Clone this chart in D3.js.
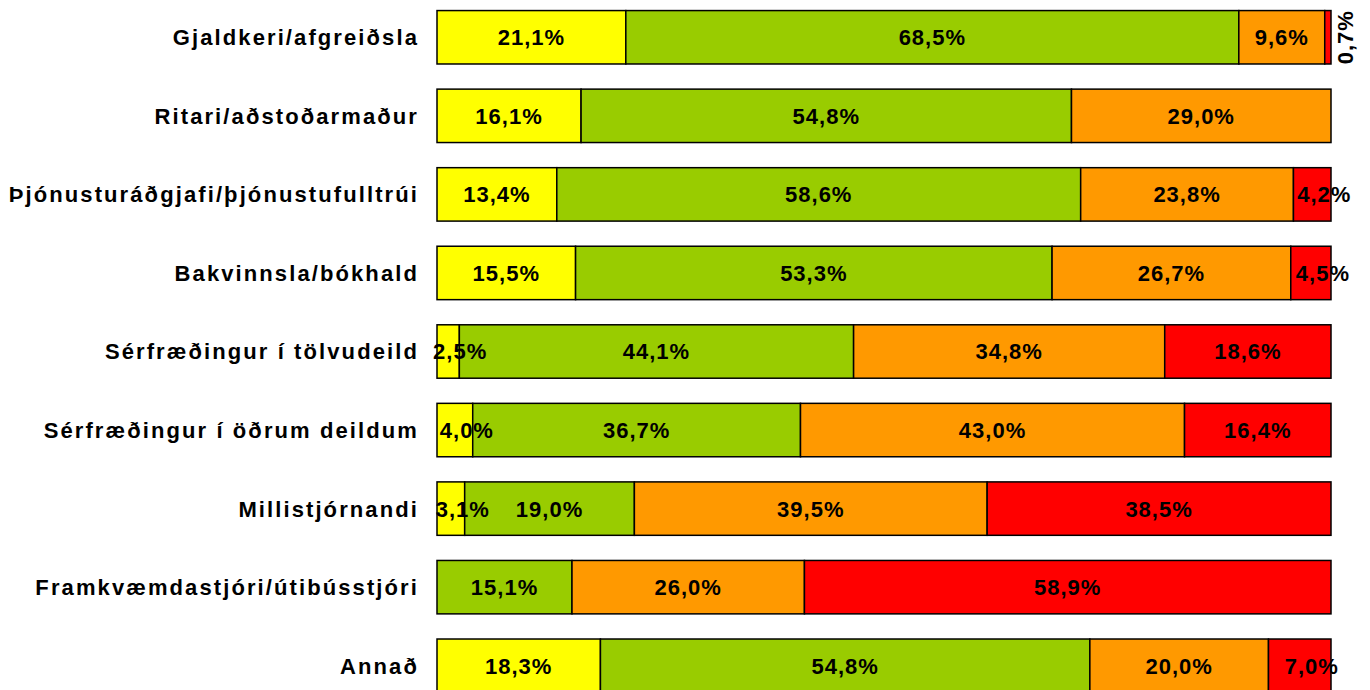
<!DOCTYPE html>
<html>
<head>
<meta charset="utf-8">
<script src="https://cdn.jsdelivr.net/npm/d3@7"></script>
<style>
  body { margin: 0; background: #fff; }
  svg { display: block; font-family: "Liberation Sans", Arial, sans-serif; font-weight: bold; }
</style>
</head>
<body>
<svg width="1370" height="690"></svg>
<script>
// starfsheiti - hlutfall eftir flokkum
const categories = [
  "Gjaldkeri/afgreiðsla",
  "Ritari/aðstoðarmaður",
  "Þjónusturáðgjafi/þjónustufulltrúi",
  "Bakvinnsla/bókhald",
  "Sérfræðingur í tölvudeild",
  "Sérfræðingur í öðrum deildum",
  "Millistjórnandi",
  "Framkvæmdastjóri/útibússtjóri",
  "Annað"
];
const yellowVals = [21.1, 16.1, 13.4, 15.5, 2.5, 4.0, 3.1, 0, 18.3];
const greenVals  = [68.5, 54.8, 58.6, 53.3, 44.1, 36.7, 19.0, 15.1, 54.8];
const orangeVals = [9.6, 29.0, 23.8, 26.7, 34.8, 43.0, 39.5, 26.0, 20.0];
const redVals    = [0.7, 0, 4.2, 4.5, 18.6, 16.4, 38.5, 58.9, 7.0];
const seriesColors = ["#FFFF00", "#99CC00", "#FF9900", "#FF0000"];

const allSeries = [yellowVals, greenVals, orangeVals, redVals];

const svg = d3.select("svg");

const x = d3.scaleLinear().domain([0, 100]).range([437, 1331]);
const y = d3.scaleBand().domain(categories).range([-2, 705])
  .paddingInner(0.32).paddingOuter(0.16);

// byggja stafla (normalized to 100%)
const rows = categories.map((cat, i) => {
  const vals = allSeries.map(s => s[i]);
  const total = d3.sum(vals);
  let acc = 0;
  return vals.map((v, k) => {
    const x0 = acc / total * 100;
    acc += v;
    return { cat: cat, k: k, v: v, x0: x0, x1: acc / total * 100 };
  }).filter(d => d.v > 0);
});

const segs = rows.flat();

svg.append("g").selectAll("rect")
  .data(segs)
  .enter()
  .append("rect")
  .attr("x", d => x(d.x0))
  .attr("y", d => y(d.cat))
  .attr("width", d => x(d.x1) - x(d.x0))
  .attr("height", y.bandwidth())
  .attr("fill", d => seriesColors[d.k])
  .attr("stroke", "#000")
  .attr("stroke-width", 1.5);

const fmt = v => v.toFixed(1).replace(".", ",") + "%";

svg.append("g").selectAll("text")
  .data(segs)
  .enter()
  .append("text")
  .attr("transform", d => {
    const w = x(d.x1) - x(d.x0);
    let cx = x((d.x0 + d.x1) / 2);
    const cy = y(d.cat) + y.bandwidth() / 2;
    if (d.v < 1) return `translate(${cx + 17},${cy}) rotate(-90)`;
    if (w < 65) cx += 12; // litlir reitir, merki ýtt til hægri eins og í Excel
    return `translate(${cx},${cy})`;
  })
  .attr("text-anchor", "middle")
  .attr("dy", "0.36em")
  .attr("font-size", 22)
  .attr("letter-spacing", 1)
  .attr("fill", "#000")
  .text(d => fmt(d.v));

// flokkaheiti
svg.append("g").selectAll("text")
  .data(categories)
  .enter()
  .append("text")
  .attr("x", 419)
  .attr("y", d => y(d) + y.bandwidth() / 2)
  .attr("dy", "0.36em")
  .attr("text-anchor", "end")
  .attr("font-size", 22)
  .attr("letter-spacing", 2.1)
  .attr("fill", "#000")
  .text(d => d);
</script>
</body>
</html>
